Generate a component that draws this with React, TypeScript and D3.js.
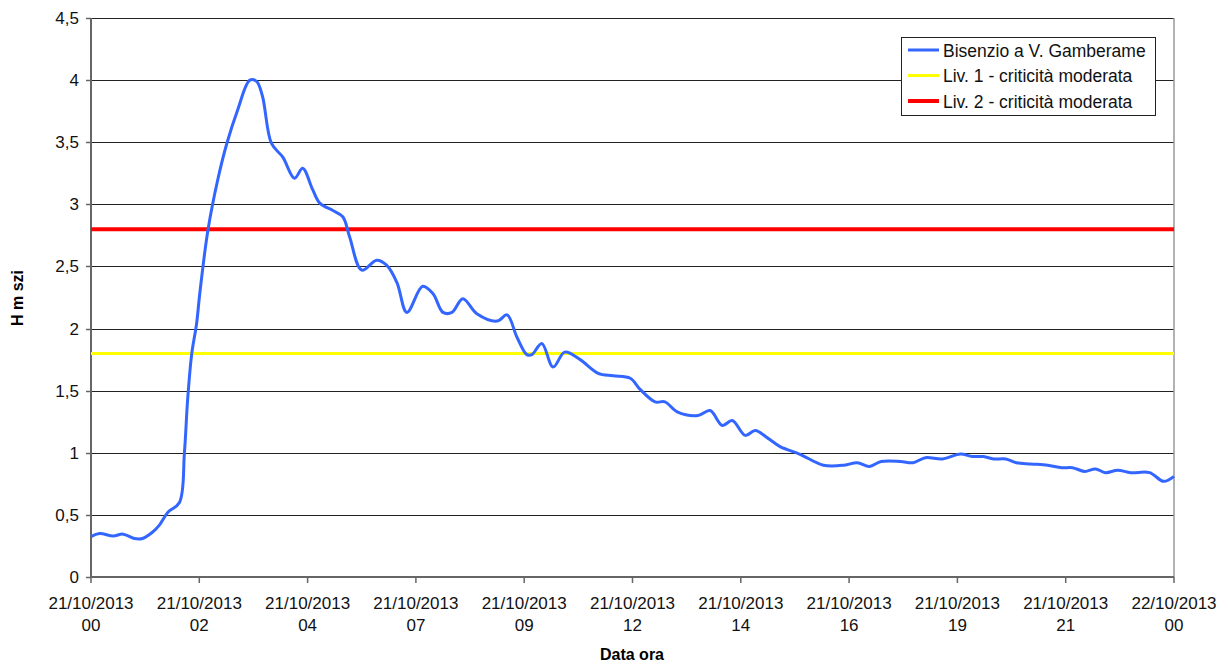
import React from 'react';
import * as d3 from 'd3';

// ore dal 21/10/2013 00:00
const hours = [
  0, 0.19, 0.49, 0.71, 0.96, 1.14, 1.36, 1.52, 1.7, 1.96, 2.07, 2.14, 2.23, 2.34, 2.41, 2.59,
  2.81, 3.01, 3.25, 3.52, 3.67, 3.8, 4.0, 4.25, 4.51, 4.69, 4.91, 5.07, 5.36, 5.58, 5.73, 6.0,
  6.33, 6.55, 6.78, 7.0, 7.35, 7.58, 7.8, 8.0, 8.24, 8.55, 9.0, 9.22, 9.44, 9.66, 9.77, 9.99,
  10.24, 10.5, 10.84, 11.24, 11.57, 11.95, 12.17, 12.5, 12.72, 12.99, 13.45, 13.72, 13.99,
  14.21, 14.5, 14.72, 14.99, 15.27, 15.7, 16.23, 16.69, 16.98, 17.25, 17.51, 17.94, 18.22,
  18.49, 18.87, 19.27, 19.53, 19.78, 20.0, 20.27, 20.51, 20.82, 21.2, 21.51, 21.75, 22.02,
  22.26, 22.48, 22.75, 23.04, 23.46, 23.77, 24.0
];
const levels = [
  0.325, 0.35, 0.33, 0.345, 0.31, 0.31, 0.36, 0.42, 0.52, 0.6, 1.0, 1.42, 1.79, 2.04, 2.28, 2.79,
  3.2, 3.49, 3.76, 4.0, 3.99, 3.87, 3.49, 3.38, 3.21, 3.29, 3.12, 3.01, 2.95, 2.9, 2.74, 2.47,
  2.55, 2.51, 2.37, 2.13, 2.34, 2.28, 2.13, 2.13, 2.24, 2.12, 2.06, 2.11, 1.93, 1.79, 1.79, 1.88,
  1.69, 1.81, 1.75, 1.64, 1.62, 1.6, 1.51, 1.41, 1.41, 1.33, 1.3, 1.34, 1.22,
  1.26, 1.14, 1.18, 1.12, 1.05, 0.99, 0.9, 0.9, 0.92, 0.89, 0.93, 0.93, 0.92,
  0.96, 0.95, 0.99, 0.97, 0.97, 0.95, 0.95, 0.92, 0.91, 0.9, 0.88, 0.88, 0.85,
  0.87, 0.84, 0.86, 0.84, 0.84, 0.77, 0.81
];
const liv1 = 1.8;
const liv2 = 2.8;
const yTicks = [0, 0.5, 1, 1.5, 2, 2.5, 3, 3.5, 4, 4.5];
const xTickHours = [0, 2.4, 4.8, 7.2, 9.6, 12, 14.4, 16.8, 19.2, 21.6, 24];
const xTickDates = ['21/10/2013', '21/10/2013', '21/10/2013', '21/10/2013', '21/10/2013', '21/10/2013',
  '21/10/2013', '21/10/2013', '21/10/2013', '21/10/2013', '22/10/2013'];
const xTickHourLabels = ['00', '02', '04', '07', '09', '12', '14', '16', '19', '21', '00'];
const legendItems = [
  { label: 'Bisenzio a V. Gamberame', color: '#3366FF', w: 3 },
  { label: 'Liv. 1 - criticità moderata', color: '#FFFF00', w: 3 },
  { label: 'Liv. 2 - criticità moderata', color: '#FF0000', w: 4 }
];

const W = 1228, H = 665;
const m = { left: 91, right: 1174, top: 18, bottom: 577 };
const font = '"Liberation Sans", Arial, sans-serif';

export default function App() {
  const x = d3.scaleLinear().domain([0, 24]).range([m.left, m.right]);
  const y = d3.scaleLinear().domain([0, 4.5]).range([m.bottom, m.top]);
  const pts: [number, number][] = hours.map((h, i) => [h, levels[i]]);
  const line = d3.line<[number, number]>()
    .x(d => x(d[0]))
    .y(d => y(d[1]))
    .curve(d3.curveCatmullRom.alpha(0.5));

  return (
    <svg width={W} height={H} style={{ position: 'absolute', left: 0, top: 0, fontFamily: font }}>
      <rect width={W} height={H} fill="#fff" />
      {yTicks.map(t => (
        <g key={t}>
          {t > 0 && <line x1={m.left} x2={m.right} y1={Math.round(y(t)) + 0.5} y2={Math.round(y(t)) + 0.5} stroke="#222" strokeWidth={1} />}
          <line x1={m.left - 5} x2={m.left} y1={Math.round(y(t)) + 0.5} y2={Math.round(y(t)) + 0.5} stroke="#666" strokeWidth={1.5} />
          <text x={79} y={y(t) + 6} textAnchor="end" fontSize={17} fill="#111">
            {String(t).replace('.', ',')}
          </text>
        </g>
      ))}
      <line x1={m.right} x2={m.right} y1={m.top} y2={m.bottom} stroke="#999" strokeWidth={1.5} />
      <line x1={m.left} x2={m.left} y1={m.top} y2={m.bottom + 0.5} stroke="#666" strokeWidth={2} />
      <line x1={m.left} x2={m.right} y1={m.bottom} y2={m.bottom} stroke="#666" strokeWidth={2} />
      {xTickHours.map((h, i) => (
        <g key={i}>
          <line x1={x(h)} x2={x(h)} y1={m.bottom} y2={m.bottom + 6} stroke="#666" strokeWidth={1.5} />
          <text x={x(h)} y={609} textAnchor="middle" fontSize={17} fill="#111">{xTickDates[i]}</text>
          <text x={x(h)} y={631} textAnchor="middle" fontSize={17} fill="#111">{xTickHourLabels[i]}</text>
        </g>
      ))}
      <line x1={m.left} x2={m.right} y1={y(liv1)} y2={y(liv1)} stroke="#FFFF00" strokeWidth={3} />
      <line x1={m.left} x2={m.right} y1={y(liv2)} y2={y(liv2)} stroke="#FF0000" strokeWidth={4} />
      <path d={line(pts) || ''} fill="none" stroke="#3366FF" strokeWidth={3} strokeLinejoin="round" />
      <text transform={`translate(23,298) rotate(-90)`} textAnchor="middle"
        fontSize={16} fontWeight="bold" fill="#000">H m szi</text>
      <text x={632} y={660} textAnchor="middle" fontSize={16} fontWeight="bold" fill="#000">Data ora</text>
      <g>
        <rect x={901.5} y={37.5} width={254} height={78} fill="#fff" stroke="#222" strokeWidth={1} />
        {legendItems.map((it, i) => (
          <g key={it.label}>
            <line x1={908} x2={939} y1={50 + i * 25.5} y2={50 + i * 25.5} stroke={it.color} strokeWidth={it.w} />
            <text x={943} y={56.5 + i * 25.8} fontSize={17.5} fill="#111">{it.label}</text>
          </g>
        ))}
      </g>
    </svg>
  );
}
